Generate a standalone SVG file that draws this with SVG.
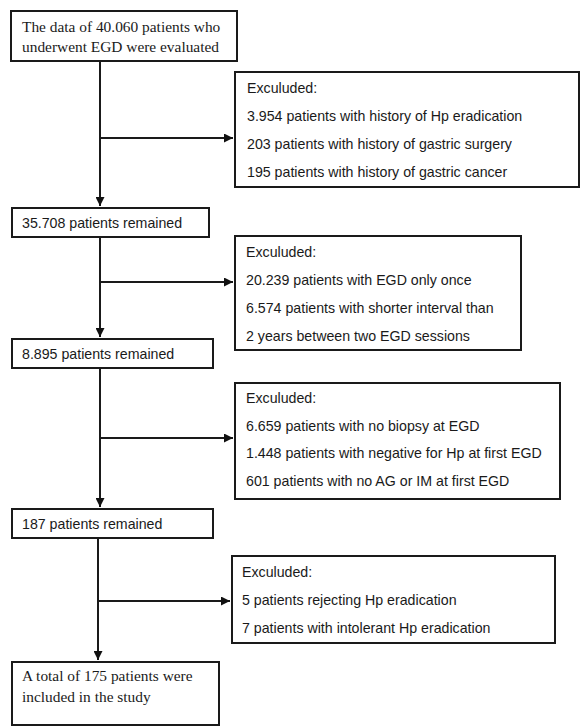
<svg xmlns="http://www.w3.org/2000/svg" width="581" height="727" viewBox="0 0 581 727">
<defs>
<marker id="ah" viewBox="0 0 10 10" refX="10" refY="5" markerWidth="4.5" markerHeight="4.5" orient="auto" markerUnits="strokeWidth">
<path d="M0,0 L10,5 L0,10 z" fill="#111"/>
</marker>
<style>
.box{fill:#fff;stroke:#1a1a1a;stroke-width:2}
.serif{font-family:"Liberation Serif","Times New Roman",serif;font-size:15.4px;fill:#1a1a1a}
.sans{font-family:"Liberation Sans",Arial,sans-serif;font-size:14.2px;fill:#1a1a1a}
.line{stroke:#1a1a1a;stroke-width:2;fill:none}
</style>
</defs>
<rect width="581" height="727" fill="#fff"/>
<g id="connectors">
<line class="line" x1="100" y1="61" x2="100" y2="206" marker-end="url(#ah)"/>
<line class="line" x1="100" y1="138" x2="233" y2="138" marker-end="url(#ah)"/>
<line class="line" x1="100" y1="237" x2="100" y2="337" marker-end="url(#ah)"/>
<line class="line" x1="100" y1="282" x2="233" y2="282" marker-end="url(#ah)"/>
<line class="line" x1="100" y1="368" x2="100" y2="507" marker-end="url(#ah)"/>
<line class="line" x1="100" y1="438" x2="233" y2="438" marker-end="url(#ah)"/>
<line class="line" x1="98" y1="538" x2="98" y2="660" marker-end="url(#ah)"/>
<line class="line" x1="98" y1="601" x2="230" y2="601" marker-end="url(#ah)"/>
</g>
<g id="start">
<rect class="box" x="11" y="11" width="226" height="50"/>
<text class="serif" x="22" y="32">The data of 40.060 patients who</text>
<text class="serif" x="22" y="52">underwent EGD were evaluated</text>
</g>
<g id="excl1">
<rect class="box" x="235" y="72" width="344" height="115"/>
<text class="sans" x="247" y="93">Exculuded:</text>
<text class="sans" x="247" y="121">3.954 patients with history of Hp eradication</text>
<text class="sans" x="247" y="149">203 patients with history of gastric surgery</text>
<text class="sans" x="247" y="177">195 patients with history of gastric cancer</text>
</g>
<g id="remain1">
<rect class="box" x="12" y="208" width="197" height="29"/>
<text class="sans" x="22" y="228">35.708 patients remained</text>
</g>
<g id="excl2">
<rect class="box" x="235" y="236" width="286" height="114"/>
<text class="sans" x="246" y="257">Exculuded:</text>
<text class="sans" x="246" y="285">20.239 patients with EGD only once</text>
<text class="sans" x="246" y="313">6.574 patients with shorter interval than</text>
<text class="sans" x="246" y="341">2 years between two EGD sessions</text>
</g>
<g id="remain2">
<rect class="box" x="12" y="339" width="201" height="29"/>
<text class="sans" x="22" y="359">8.895 patients remained</text>
</g>
<g id="excl3">
<rect class="box" x="235" y="383" width="325" height="116"/>
<text class="sans" x="246" y="403">Exculuded:</text>
<text class="sans" x="246" y="431">6.659 patients with no biopsy at EGD</text>
<text class="sans" x="246" y="458">1.448 patients with negative for Hp at first EGD</text>
<text class="sans" x="246" y="486">601 patients with no AG or IM at first EGD</text>
</g>
<g id="remain3">
<rect class="box" x="12" y="509" width="201" height="29"/>
<text class="sans" x="22" y="529">187 patients remained</text>
</g>
<g id="excl4">
<rect class="box" x="232" y="556" width="323" height="87"/>
<text class="sans" x="242" y="577">Exculuded:</text>
<text class="sans" x="242" y="605">5 patients rejecting Hp eradication</text>
<text class="sans" x="242" y="633">7 patients with intolerant Hp eradication</text>
</g>
<g id="final">
<rect class="box" x="12" y="662" width="207" height="63"/>
<text class="serif" x="22" y="681">A total of 175 patients were</text>
<text class="serif" x="22" y="702">included in the study</text>
</g>
</svg>
